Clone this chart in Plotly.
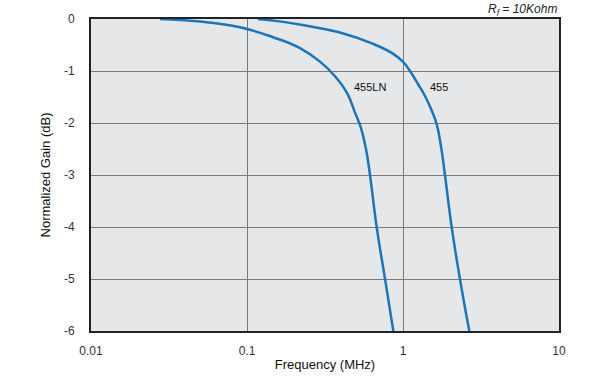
import plotly.graph_objects as go

# 455LN curve (frequency in MHz, normalized gain in dB)
f_455ln = [0.0277, 0.0500, 0.0901, 0.1468, 0.2186, 0.2937, 0.3665, 0.4375, 0.4924, 0.5381, 0.5791, 0.6143, 0.678, 0.767, 0.867]
g_455ln = [0.0, -0.05, -0.16, -0.35, -0.56, -0.82, -1.10, -1.42, -1.80, -2.10, -2.5, -3.0, -4.0, -5.0, -6.0]

# 455 curve
f_455 = [0.1176, 0.1752, 0.2414, 0.3947, 0.6451, 0.8665, 1.0044, 1.109, 1.248, 1.394, 1.528, 1.644, 1.752, 1.858, 2.051, 2.318, 2.661]
g_455 = [0.0, -0.06, -0.13, -0.26, -0.48, -0.67, -0.83, -1.0, -1.25, -1.5, -1.76, -2.02, -2.45, -3.0, -4.0, -5.0, -6.0]

x_tickvals = [0.01, 0.1, 1, 10]
x_ticktext = ["0.01", "0.1", "1", "10"]
y_tickvals = [0, -1, -2, -3, -4, -5, -6]
y_ticktext = ["0", "-1", "-2", "-3", "-4", "-5", "-6"]

line_color = "#1b75bb"
font_family = "Liberation Sans, Arial, sans-serif"

fig = go.Figure()
fig.add_trace(go.Scatter(x=f_455ln, y=g_455ln, mode="lines", name="455LN",
                         line=dict(color=line_color, width=2.5, shape="spline", smoothing=1.3)))
fig.add_trace(go.Scatter(x=f_455, y=g_455, mode="lines", name="455",
                         line=dict(color=line_color, width=2.5, shape="spline", smoothing=1.3)))

fig.add_annotation(x=-0.212, y=-1.31, xref="x", yref="y", text="455LN", showarrow=False,
                   font=dict(size=11, color="#111", family=font_family), xanchor="center", yanchor="middle")
fig.add_annotation(x=0.231, y=-1.31, xref="x", yref="y", text="455", showarrow=False,
                   font=dict(size=11, color="#111", family=font_family), xanchor="center", yanchor="middle")
fig.add_annotation(x=1, y=1, xref="paper", yref="paper", yshift=-1,
                   text="<i>R<sub>f</sub> = 10Kohm</i>", showarrow=False,
                   font=dict(size=12, color="#222", family=font_family), xanchor="right", yanchor="bottom")

fig.update_layout(
    width=598, height=381,
    margin=dict(l=91, r=39, t=19, b=50, autoexpand=False),
    paper_bgcolor="white", plot_bgcolor="#e6e7e9",
    showlegend=False,
    font=dict(family=font_family, size=11, color="#222"),
)
fig.update_xaxes(type="log", range=[-2, 1], tickvals=x_tickvals, ticktext=x_ticktext,
                 showgrid=True, gridcolor="#7a7a7a", gridwidth=1.2,
                 showline=True, linecolor="#222", linewidth=2, mirror=True,
                 ticks="", ticklabelstandoff=8, zeroline=False, automargin=False,
                 title=dict(text="Frequency (MHz)", font=dict(size=13, color="#111"), standoff=2),
                 tickfont=dict(size=12, color="#333"))
fig.update_yaxes(range=[-6, 0], tickvals=y_tickvals, ticktext=y_ticktext,
                 showgrid=True, gridcolor="#7a7a7a", gridwidth=1.2,
                 showline=True, linecolor="#222", linewidth=2, mirror=True,
                 ticks="", ticklabelstandoff=12, zeroline=False, automargin=False,
                 title=dict(text="Normalized Gain (dB)", font=dict(size=13, color="#111"), standoff=10),
                 tickfont=dict(size=12, color="#333"))

fig.write_html("out.html", config={"displayModeBar": False},
               post_script="document.body.style.margin='0';")
